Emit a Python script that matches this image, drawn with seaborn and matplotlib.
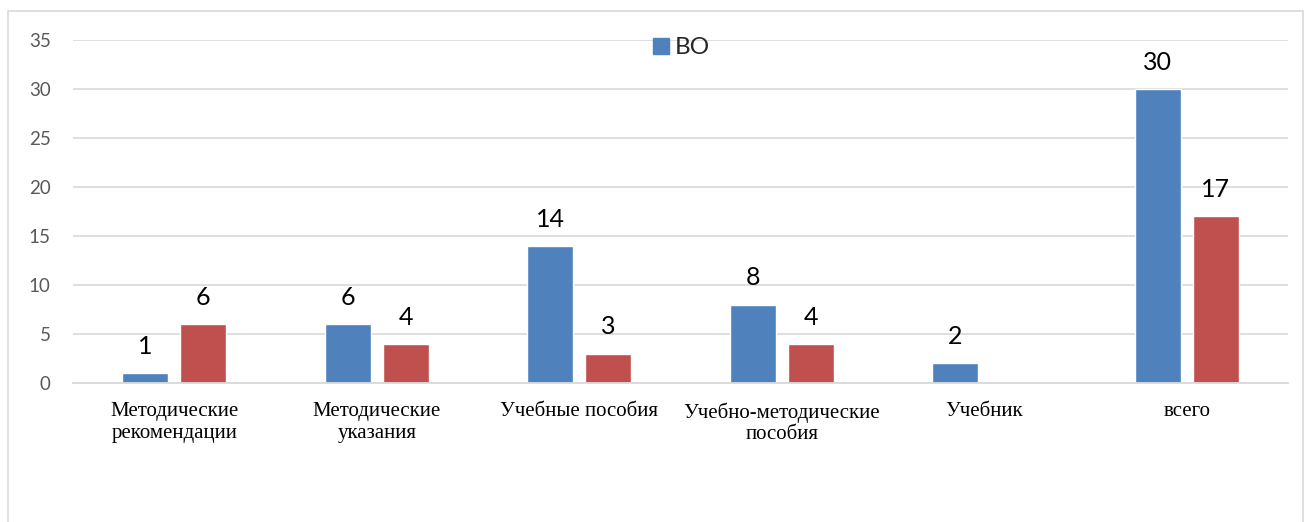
import matplotlib
matplotlib.use("Agg")
import matplotlib.pyplot as plt
import pandas as pd
import seaborn as sns
from matplotlib.patches import Rectangle
from matplotlib.lines import Line2D

# Data
categories = ["Методические\nрекомендации", "Методические\nуказания", "Учебные пособия",
              "Учебно-методические\nпособия", "Учебник", "всего"]
vo_values = [1, 6, 14, 8, 2, 30]
spo_values = [6, 4, 3, 4, None, 17]
series_names = ["ВО", "СПО"]
y_ticks = [0, 5, 10, 15, 20, 25, 30, 35]

rows = []
for cat, v1, v2 in zip(categories, vo_values, spo_values):
    rows.append({"cat": cat, "series": series_names[0], "value": v1})
    if v2 is not None:
        rows.append({"cat": cat, "series": series_names[1], "value": v2})
df = pd.DataFrame(rows)

sns.set_style("white")
plt.rcParams['font.family'] = ['Lato', 'DejaVu Sans']

fig = plt.figure(figsize=(13.07, 5.22), dpi=100)
ax = fig.add_axes([73 / 1307, 1 - 383 / 522, 1215 / 1307, 343 / 522])

blue = "#4F81BD"
red = "#C0504D"
sns.barplot(data=df, x="cat", y="value", hue="series", hue_order=series_names,
            order=categories, palette=[blue, red], width=0.573, gap=0.21,
            legend=False, ax=ax, saturation=1)

for cont in ax.containers:
    ax.bar_label(cont, labels=[f"{v:g}" for v in cont.datavalues], padding=11,
                 fontsize=18, color="black")

ax.set_ylim(0, 35)
ax.set_yticks(y_ticks)
ax.set_xlim(-0.5, len(categories) - 0.5)
ax.set_xlabel("")
ax.set_ylabel("")
ax.yaxis.grid(True, color="#d9d9d9", linewidth=1.2)
ax.set_axisbelow(True)
for s in ["left", "right", "top"]:
    ax.spines[s].set_visible(False)
ax.spines["bottom"].set_color("#d9d9d9")
ax.spines["bottom"].set_linewidth(1.3)
ax.tick_params(axis="y", length=0, pad=16, labelsize=13.5, labelcolor="#595959")
ax.tick_params(axis="x", length=0, pad=14)
for lab in ax.get_xticklabels():
    lab.set_fontfamily("Liberation Serif")
    lab.set_fontsize(15)
    lab.set_color("black")
    lab.set_linespacing(1.15)

handle = Line2D([], [], marker="s", linestyle="none", markersize=11.5,
                markerfacecolor=blue, markeredgecolor=blue)
ax.legend([handle], ["ВО"], loc="center", bbox_to_anchor=(0.5, 0.977),
          frameon=False, fontsize=17.5, handletextpad=0.2, handlelength=0.8)

# outer chart border
fig.patches.append(Rectangle((8 / 1307, -0.1), 1295 / 1307, 1.1 - 11 / 522,
                             transform=fig.transFigure, fill=False,
                             edgecolor="#d9d9d9", linewidth=1.2))

fig.savefig("out.png", dpi=100)
